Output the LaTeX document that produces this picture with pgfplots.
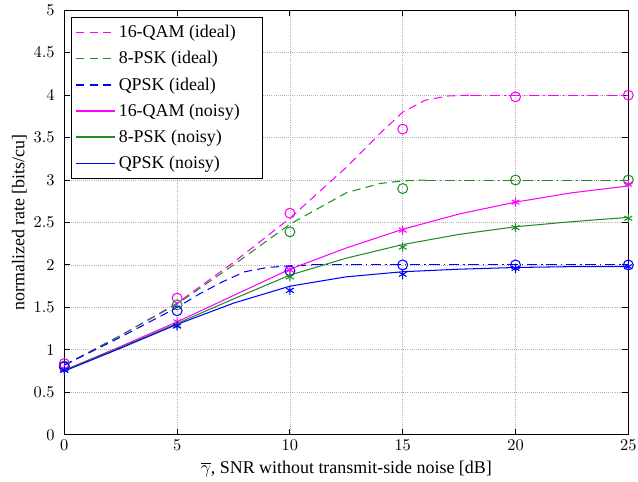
\documentclass[border=0pt]{standalone}
\usepackage{fontspec}
\setmainfont{Liberation Serif}
\usepackage{pgfplots}
\pgfplotsset{compat=1.18}
\definecolor{mag}{rgb}{1,0,1}
\definecolor{grn}{rgb}{0.13,0.55,0.13}
\definecolor{blu}{rgb}{0,0,1}
\begin{document}
\begin{tikzpicture}
\begin{axis}[
  scale only axis,
  width=376bp, height=283bp,
  xmin=0, xmax=25, ymin=0, ymax=5,
  xtick={0,5,...,25},
  ytick={0,0.5,...,5},
  yticklabel style={/pgf/number format/fixed, xshift=-3bp},
  xticklabel style={inner xsep=1bp},
  tick label style={font=\fontsize{11}{13}\selectfont},
  label style={font=\fontsize{12}{14}\selectfont},
  tick align=inside,
  xtick pos=both, ytick pos=both,
  major tick length=4bp,
  grid=major,
  grid style={densely dotted, gray!60, line width=0.5pt},
  axis line style={line width=0.9pt},
  every tick/.style={black, line width=0.6pt},
  xlabel={$\overline{\gamma}$, SNR without transmit-side noise [dB]},
  ylabel={normalized rate [bits/cu]},
  xlabel style={yshift=0pt},
  ylabel style={inner ysep=8bp, yshift=-7bp},
  legend style={at={(0.011,0.985)}, anchor=north west, line width=0.8pt,
    font=\fontsize{12}{13}\selectfont, row sep=3.6bp, inner xsep=3bp, inner ysep=3.5bp,
    cells={anchor=west}},
  legend cell align=left,
  legend image code/.code={\draw[line width=0.8pt] plot coordinates {(0bp,0bp) (26bp,0bp)};},
  every axis plot/.append style={line width=0.7pt},
]
% ideal (dashed)
\addplot[color=mag, dash pattern=on 5.5bp off 3.5bp] coordinates {(0,0.82) (2.5,1.17) (5,1.55) (7.5,2.03) (10,2.55) (12.5,3.15) (14,3.55) (15,3.8) (16,3.94) (17,3.99) (18,4.0)};
\addlegendentry{16-QAM (ideal)}
\addplot[color=grn, dash pattern=on 5.5bp off 3.5bp] coordinates {(0,0.82) (2.5,1.17) (5,1.54) (7.5,2.0) (10,2.48) (12.5,2.85) (14,2.96) (15,2.99) (16,3.0)};
\addlegendentry{8-PSK (ideal)}
\addplot[color=blu, dash pattern=on 5.5bp off 3.5bp] coordinates {(0,0.82) (2.5,1.15) (5,1.5) (6,1.66) (7,1.8) (8,1.92) (9,1.97) (10,1.99) (11,2.0)};
\addlegendentry{QPSK (ideal)}
% noisy (solid)
\addplot[color=mag] coordinates {(0,0.76) (2.5,1.04) (5,1.33) (7.5,1.64) (10,1.95) (12.5,2.2) (15,2.42) (17.5,2.6) (20,2.74) (22.5,2.85) (25,2.93)};
\addlegendentry{16-QAM (noisy)\hspace*{10bp}}
\addplot[color=grn] coordinates {(0,0.76) (2.5,1.03) (5,1.31) (7.5,1.6) (10,1.88) (12.5,2.08) (15,2.24) (17.5,2.36) (20,2.45) (22.5,2.51) (25,2.56)};
\addlegendentry{8-PSK (noisy)}
\addplot[color=blu] coordinates {(0,0.75) (2.5,1.02) (5,1.3) (7.5,1.55) (10,1.75) (12.5,1.86) (15,1.92) (17.5,1.95) (20,1.97) (22.5,1.98) (25,1.98)};
\addlegendentry{QPSK (noisy)}
% saturation (dash-dot)
\addplot[color=mag, dash pattern=on 7bp off 2.5bp on 1bp off 2.5bp, forget plot] coordinates {(18,4.0) (25,4.0)};
\addplot[color=grn, dash pattern=on 7bp off 2.5bp on 1bp off 2.5bp, forget plot] coordinates {(16,3.0) (25,3.0)};
\addplot[color=blu, dash pattern=on 7bp off 2.5bp on 1bp off 2.5bp, forget plot] coordinates {(11,2.0) (25,2.0)};
% simulated ideal (circles)
\addplot[color=mag, only marks, mark=o, mark size=3.3bp, forget plot] coordinates {(0,0.84) (5,1.61) (10,2.61) (15,3.6) (20,3.98) (25,4.0)};
\addplot[color=grn, only marks, mark=o, mark size=3.3bp, forget plot] coordinates {(0,0.81) (5,1.53) (10,2.39) (15,2.9) (20,3.0) (25,3.0)};
\addplot[color=blu, only marks, mark=o, mark size=3.3bp, forget plot] coordinates {(0,0.8) (5,1.46) (10,1.93) (15,2.0) (20,2.0) (25,2.0)};
% simulated noisy (asterisks)
\addplot[color=mag, only marks, mark=asterisk, mark size=3bp, forget plot] coordinates {(0,0.77) (5,1.33) (10,1.94) (15,2.41) (20,2.74) (25,2.95)};
\addplot[color=grn, only marks, mark=asterisk, mark size=3bp, forget plot] coordinates {(0,0.76) (5,1.29) (10,1.86) (15,2.21) (20,2.44) (25,2.55)};
\addplot[color=blu, only marks, mark=asterisk, mark size=3bp, forget plot] coordinates {(0,0.76) (5,1.28) (10,1.7) (15,1.89) (20,1.96) (25,1.98)};
\end{axis}
\end{tikzpicture}
\end{document}
